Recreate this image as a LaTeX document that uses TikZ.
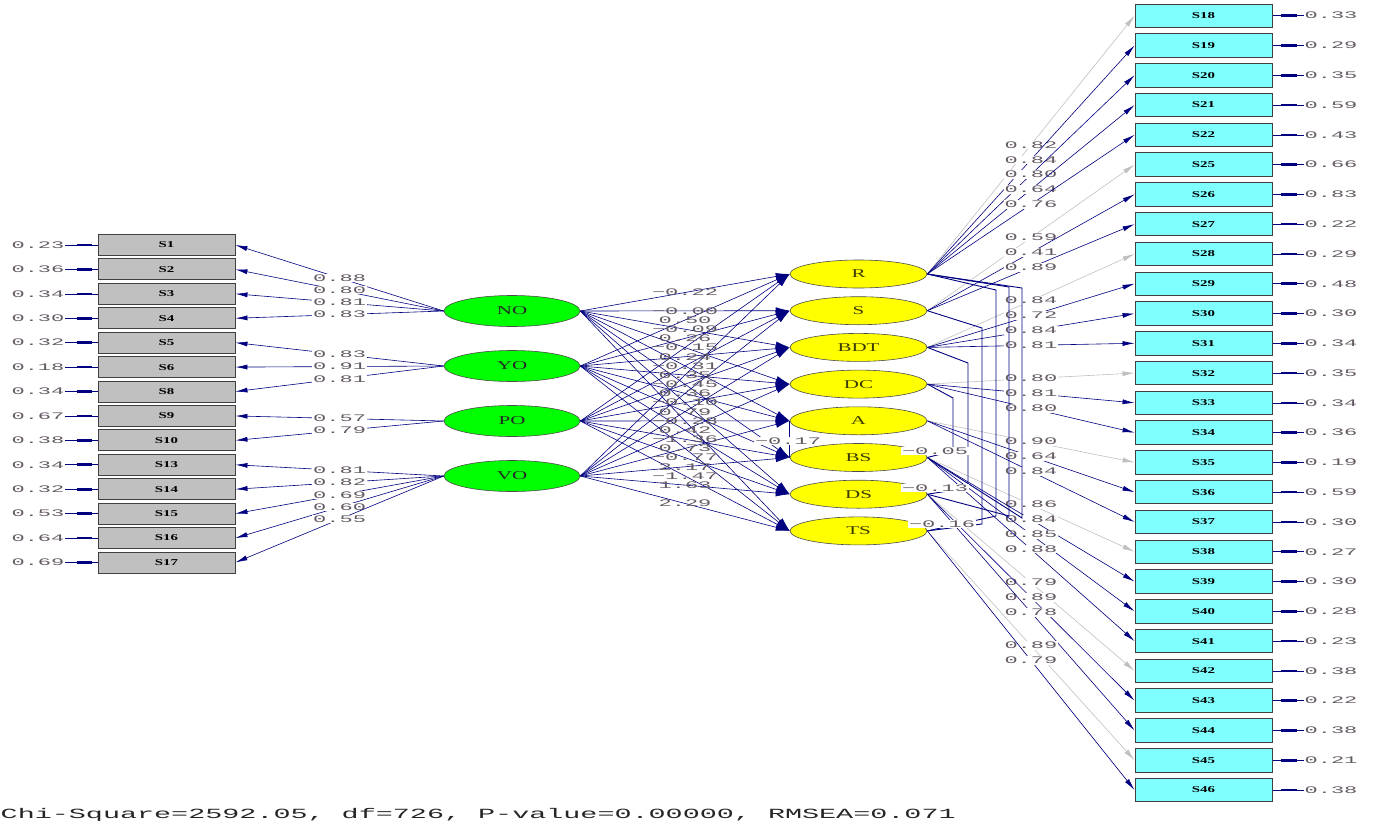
\documentclass[tikz,border=0pt]{standalone}
\usepackage{fontspec}
\usepackage{graphicx}
\usetikzlibrary{arrows.meta,shapes.geometric,backgrounds}
\newfontfamily\monofnt{Liberation Mono}
\newfontfamily\seriffnt{Liberation Serif}
\definecolor{navy}{RGB}{0,0,128}
\definecolor{lgrey}{RGB}{192,192,192}
\definecolor{boxgrey}{RGB}{192,192,192}
\definecolor{cyanbox}{RGB}{128,255,255}
\definecolor{greenell}{RGB}{0,255,0}
\definecolor{yellowell}{RGB}{255,255,0}
\definecolor{lbl}{RGB}{100,90,100}
\newcommand{\val}[1]{\scalebox{2.2}[1]{\monofnt\fontsize{10}{10}\selectfont #1}}
\newcommand{\bxl}[1]{\scalebox{1.65}[1]{\seriffnt\bfseries\fontsize{9}{9}\selectfont #1}}
\newcommand{\latl}[1]{\scalebox{1.75}[1]{\seriffnt\fontsize{12}{12}\selectfont #1}}
\tikzset{
  obsl/.style={draw=black!75, line width=0.9pt, fill=boxgrey, minimum width=137pt, minimum height=21pt, inner sep=0pt},
  obsr/.style={obsl, fill=cyanbox, minimum height=23.5pt},
  latg/.style={ellipse, draw=black!70, line width=0.6pt, fill=greenell, minimum width=136pt, minimum height=31pt, inner sep=0pt, text=black!85},
  laty/.style={latg, fill=yellowell, minimum width=137pt, minimum height=28pt, text={rgb,255:red,60;green,60;blue,0}},
  lnk/.style={draw=navy, line width=0.6pt, -{Latex[length=12pt,width=5pt]}},
  lnkg/.style={lnk, draw=lgrey},
  slnk/.style={draw=navy, line width=0.6pt, -{Latex[length=14pt,width=7pt]}},
  vl/.style={fill=white, inner sep=0.8pt, text=lbl},
  vlm/.style={inner sep=0pt, text=lbl},
  cov/.style={draw=navy, line width=0.9pt},
  errl/.style={draw=navy, line width=0.6pt},
  errb/.style={draw=navy, line width=2.6pt},
  ev/.style={inner sep=0.5pt, text=lbl}
}
\begin{document}
\begin{tikzpicture}[x=1pt,y=-1pt]
\useasboundingbox (0,0) rectangle (1375,830);

% left indicators
\foreach \nm/\ev [count=\i from 0] in {S1/0.23,S2/0.36,S3/0.34,S4/0.30,S5/0.32,S6/0.18,S8/0.34,S9/0.67,S10/0.38,S13/0.34,S14/0.32,S15/0.53,S16/0.64,S17/0.69} {
  \node[obsl] (\nm) at (166.5,{245+24.42*\i}) {\bxl{\nm}};
  \node[ev] (e\nm) at (38,{245+24.42*\i}) {\val{\ev}};
}
% right indicators
\foreach \nm/\ev [count=\i from 0] in {S18/0.33,S19/0.29,S20/0.35,S21/0.59,S22/0.43,S25/0.66,S26/0.83,S27/0.22,S28/0.29,S29/0.48,S30/0.30,S31/0.34,S32/0.35,S33/0.34,S34/0.36,S35/0.19,S36/0.59,S37/0.30,S38/0.27,S39/0.30,S40/0.28,S41/0.23,S42/0.38,S43/0.22,S44/0.38,S45/0.21,S46/0.38} {
  \node[obsr] (\nm) at (1203.5,{15.7+29.78*\i}) {\bxl{\nm}};
  \node[ev] (e\nm) at (1331,{15.7+29.78*\i}) {\val{\ev}};
}
% exogenous latents
\node[latg] (NO) at (512,311) {\latl{NO}};
\node[latg] (YO) at (512,366) {\latl{YO}};
\node[latg] (PO) at (512,421) {\latl{PO}};
\node[latg] (VO) at (512,476) {\latl{VO}};
% endogenous latents
\foreach \nm [count=\i from 0] in {R,S,BDT,DC,A,BS,DS,TS} {
  \node[laty] (\nm) at (858.5,{274+36.7*\i}) {\latl{\nm}};
}

\begin{scope}[on background layer]
% structural paths
\foreach \src/\dst in {NO/R,NO/S,NO/BDT,NO/DC,NO/A,NO/BS,NO/DS,NO/TS,
  YO/R,YO/S,YO/BDT,YO/DC,YO/A,YO/BS,YO/DS,YO/TS,
  PO/R,PO/S,PO/BDT,PO/DC,PO/A,PO/BS,PO/DS,PO/TS,
  VO/R,VO/S,VO/BDT,VO/DC,VO/A,VO/BS,VO/DS,VO/TS} {
  \draw[slnk] (\src.east) -- (\dst.west);
}
\foreach \src/\dst/\v in {NO/R/−0.22,NO/S/−0.00,NO/BDT/−0.09,NO/DC/−0.15,NO/A/−0.31,NO/BS/−0.45,NO/DS/−0.10,NO/TS/−0.28,
  YO/R/0.50,YO/S/0.26,YO/BDT/0.24,YO/DC/0.35,YO/A/0.36,YO/BS/0.79,YO/DS/0.42,YO/TS/0.73,
  PO/BS/−1.36,PO/DS/−0.77,PO/TS/−1.47,VO/BS/2.17,VO/DS/1.63,VO/TS/2.29} {
  \path (\src.east) -- node[vlm] {\val{\v}} (\dst.west);
}
% left loadings
\foreach \src/\dst/\v in {NO/S1/0.88,NO/S2/0.80,NO/S3/0.81,NO/S4/0.83,YO/S5/0.83,YO/S6/0.91,YO/S8/0.81,PO/S9/0.57,PO/S10/0.79,VO/S13/0.81,VO/S14/0.82,VO/S15/0.69,VO/S16/0.60,VO/S17/0.55} {
  \draw[lnk] (\src.west) -- node[vl] {\val{\v}} (\dst.east);
}
% right loadings
\foreach \src/\dst/\v/\st in {R/S18/0.82/lnkg,R/S19/0.84/lnk,R/S20/0.80/lnk,R/S21/0.64/lnk,R/S22/0.76/lnk,
  S/S25/0.59/lnkg,S/S26/0.41/lnk,S/S27/0.89/lnk,
  BDT/S28/0.84/lnkg,BDT/S29/0.72/lnk,BDT/S30/0.84/lnk,BDT/S31/0.81/lnk,
  DC/S32/0.80/lnkg,DC/S33/0.81/lnk,DC/S34/0.80/lnk,
  A/S35/0.90/lnkg,A/S36/0.64/lnk,A/S37/0.84/lnk,
  BS/S38/0.86/lnkg,BS/S39/0.84/lnk,BS/S40/0.85/lnk,BS/S41/0.88/lnk,
  DS/S42/0.79/lnkg,DS/S43/0.89/lnk,DS/S44/0.78/lnk,
  TS/S45/0.89/lnkg,TS/S46/0.79/lnk} {
  \draw[\st] (\src.east) -- node[vl] {\val{\v}} (\dst.west);
}
% covariances among structural residuals
\draw[cov] (BS.east) -- (953,451) -- (953,398) -- (DC.east);
\draw[cov] (DS.east) -- (968,488) -- (968,363) -- (BDT.east);
\draw[cov] (TS.east) -- (982,524) -- (982,328) -- (S.east);
\draw[cov] (TS.east) -- (996,516) -- (996,290) -- (R.east);
\draw[cov] (DS.east) -- (1009,516) -- (1009,287) -- (R.east);
\draw[cov] (BS.east) -- (1022,518) -- (1022,288) -- (R.east);
\draw[cov] (A.west) -- (BS.west);
% error arrows
\foreach \nm in {S1,S2,S3,S4,S5,S6,S8,S9,S10,S13,S14,S15,S16,S17} {
  \draw[errl] (e\nm.east) -- (\nm.west);
  \draw[errb] ([xshift=-21pt]\nm.west) -- ([xshift=-6pt]\nm.west);
}
\foreach \nm in {S18,S19,S20,S21,S22,S25,S26,S27,S28,S29,S30,S31,S32,S33,S34,S35,S36,S37,S38,S39,S40,S41,S42,S43,S44,S45,S46} {
  \draw[errl] (\nm.east) -- (e\nm.west);
  \draw[errb] ([xshift=9pt]\nm.east) -- ([xshift=25pt]\nm.east);
}
\end{scope}

% covariance labels
\node[vl] (psiA) at (788,441) {\val{−0.17}};
\node[vl] (psiB) at (935,451) {\val{−0.05}};
\node[vl] (psiC) at (935,488) {\val{−0.13}};
\node[vl] (psiD) at (942,524) {\val{−0.16}};

% fit statistics
\node[anchor=west, inner sep=0pt, text=black!85] (fit) at (0.5,815) {\scalebox{2.03}[1]{\monofnt\fontsize{14}{14}\selectfont Chi-Square=2592.05, df=726, P-value=0.00000, RMSEA=0.071}};
\end{tikzpicture}
\end{document}
